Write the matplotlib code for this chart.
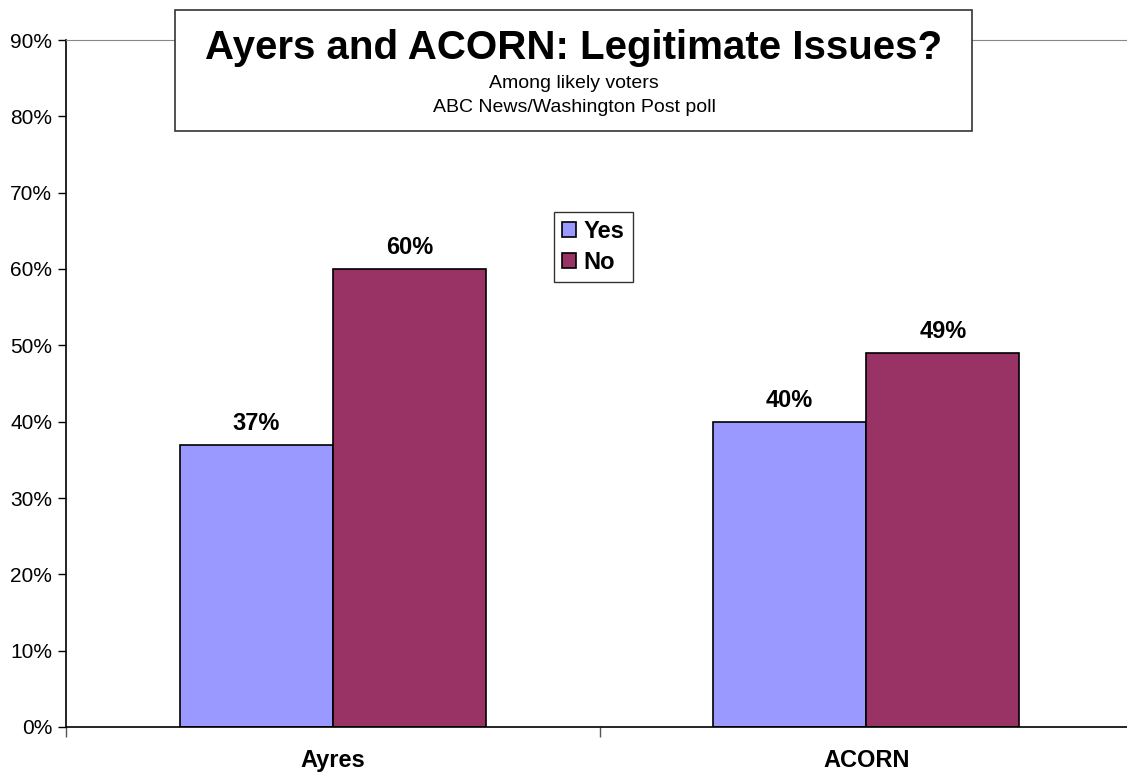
import matplotlib.pyplot as plt
from matplotlib.patches import Rectangle
from matplotlib.ticker import FuncFormatter

plt.rcParams['font.family'] = ['Liberation Sans', 'DejaVu Sans']

categories = ['Ayres', 'ACORN']
yes_vals = [37, 40]
no_vals = [60, 49]
series_names = ['Yes', 'No']

fig = plt.figure(figsize=(11.27, 7.76), dpi=100)
ax = fig.add_axes([66/1127, 49/776, 1067/1127, 687/776])

w = 0.287
x = list(range(len(categories)))
b1 = ax.bar([i - w/2 for i in x], yes_vals, w, color='#9999FF', edgecolor='black', linewidth=1.2, label=series_names[0])
b2 = ax.bar([i + w/2 for i in x], no_vals, w, color='#993366', edgecolor='black', linewidth=1.2, label=series_names[1])

for bars, vals in [(b1, yes_vals), (b2, no_vals)]:
    for r, v in zip(bars, vals):
        ax.annotate('%d%%' % v, (r.get_x() + r.get_width()/2, v), xytext=(0, 7),
                    textcoords='offset points', ha='center', va='bottom',
                    fontsize=17, fontweight='bold')

ax.set_xlim(-0.5, 1.5)
ax.set_ylim(0, 90)
ax.set_yticks(range(0, 91, 10))
ax.yaxis.set_major_formatter(FuncFormatter(lambda v, p: '%d%%' % v))
ax.tick_params(axis='y', direction='out', length=6, width=1, labelsize=15, pad=4)

ax.set_xticks(x)
ax.set_xticklabels(categories, fontsize=17, fontweight='bold')
ax.tick_params(axis='x', which='major', length=0, pad=16)
ax.set_xticks([-0.5, 0.5, 1.5], minor=True)
ax.tick_params(axis='x', which='minor', direction='out', length=7, width=1, color='#555555')

ax.spines['right'].set_visible(False)
ax.spines['top'].set_color('#888888')
ax.spines['left'].set_linewidth(1.2)
ax.spines['bottom'].set_linewidth(1.2)

leg = ax.legend(loc='upper left', bbox_to_anchor=(488/1067, (727-212)/687),
                prop={'weight': 'bold', 'size': 17}, frameon=True, fancybox=False,
                handlelength=0.6, handleheight=0.6, handletextpad=0.3,
                borderpad=0.35, labelspacing=0.32, borderaxespad=0)
leg.get_frame().set_edgecolor('black')
leg.get_frame().set_linewidth(1)

# title box
fig.patches.append(Rectangle((175/1127, 1 - 131/776), 797/1127, 121/776, transform=fig.transFigure,
                             facecolor='white', edgecolor='#333333', linewidth=1.2, zorder=5))
fig.text(574/1127, 1 - 48/776, 'Ayers and ACORN: Legitimate Issues?', ha='center', va='center',
         fontsize=29, fontweight='bold', zorder=6)
fig.text(574/1127, 1 - 83/776, 'Among likely voters', ha='center', va='center', fontsize=14, zorder=6)
fig.text(574/1127, 1 - 107/776, 'ABC News/Washington Post poll', ha='center', va='center', fontsize=14, zorder=6)

fig.savefig('out.png', dpi=100)
